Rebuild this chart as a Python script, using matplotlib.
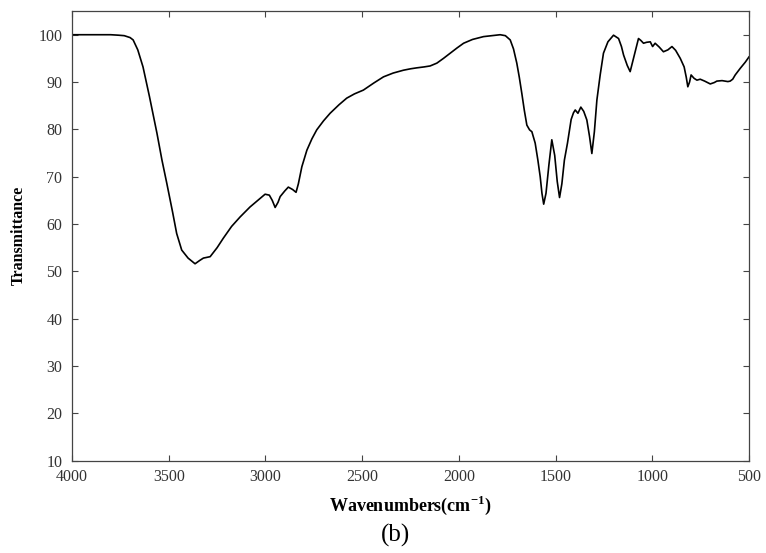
import matplotlib
matplotlib.use("Agg")
import matplotlib.pyplot as plt

# FTIR spectrum, wavenumber (cm-1) vs transmittance (%)
wavenumber = [4000, 3900, 3800, 3760, 3730, 3700, 3684, 3660, 3633, 3600, 3561,
              3535, 3510, 3480, 3459, 3433, 3400, 3364, 3340, 3321, 3286, 3250,
              3218, 3175, 3131, 3080, 3040, 3002, 2980, 2965, 2950, 2935, 2924,
              2900, 2882, 2860, 2842, 2830, 2812, 2786, 2760, 2735, 2700, 2666,
              2620, 2580, 2540, 2494, 2440, 2390, 2340, 2287, 2250, 2218, 2180,
              2149, 2114, 2080, 2045, 2010, 1976, 1930, 1873, 1830, 1787, 1760,
              1735, 1718, 1701, 1688, 1675, 1662, 1649, 1635, 1623, 1606, 1592,
              1580, 1571, 1562, 1550, 1535, 1520, 1505, 1492, 1480, 1468, 1455,
              1439, 1420, 1408, 1399, 1385, 1370, 1355, 1339, 1325, 1313, 1300,
              1287, 1270, 1253, 1230, 1201, 1175, 1160, 1149, 1130, 1115, 1095,
              1072, 1060, 1046, 1030, 1011, 999, 986, 965, 943, 920, 899, 880,
              856, 836, 825, 817, 808, 800, 785, 770, 753, 730, 701, 680, 667,
              640, 610, 598, 585, 572, 546, 520, 501]
transmittance = [100.0, 100.0, 100.0, 99.9, 99.8, 99.4, 98.9, 96.8, 93.2, 87.0, 79.2,
                 73.5, 68.6, 62.5, 58.0, 54.5, 52.8, 51.6, 52.3, 52.8, 53.1, 55.0,
                 57.0, 59.5, 61.5, 63.6, 65.0, 66.3, 66.1, 65.0, 63.5, 64.6, 65.8,
                 67.0, 67.8, 67.3, 66.7, 68.5, 72.1, 75.6, 78.0, 79.9, 81.8, 83.4,
                 85.2, 86.6, 87.5, 88.3, 89.8, 91.1, 91.9, 92.5, 92.8, 93.0, 93.2,
                 93.4, 94.0, 95.0, 96.1, 97.2, 98.2, 99.0, 99.6, 99.8, 100.0, 99.8,
                 98.9, 97.0, 94.0, 91.0, 87.6, 84.0, 80.9, 79.9, 79.5, 77.1, 73.5,
                 70.0, 66.5, 64.2, 66.5, 72.5, 77.8, 74.5, 69.0, 65.6, 68.5, 73.5,
                 77.1, 82.1, 83.5, 84.1, 83.4, 84.7, 83.8, 82.0, 78.5, 74.9, 79.5,
                 86.2, 91.5, 96.1, 98.5, 99.9, 99.2, 97.5, 95.7, 93.5, 92.2, 95.5,
                 99.2, 98.8, 98.2, 98.4, 98.5, 97.5, 98.2, 97.4, 96.4, 96.8, 97.5,
                 96.7, 95.0, 93.2, 91.0, 89.0, 90.0, 91.5, 90.8, 90.4, 90.6, 90.2,
                 89.6, 89.9, 90.2, 90.3, 90.1, 90.2, 90.6, 91.5, 92.9, 94.2, 95.3]

xticks = [4000, 3500, 3000, 2500, 2000, 1500, 1000, 500]
yticks = [10, 20, 30, 40, 50, 60, 70, 80, 90, 100]

plt.rcParams['font.family'] = ['Liberation Serif', 'DejaVu Serif']
plt.rcParams['mathtext.fontset'] = 'custom'
plt.rcParams['mathtext.rm'] = 'Liberation Serif'
plt.rcParams['mathtext.bf'] = 'Liberation Serif:bold'

fig = plt.figure(figsize=(7.66, 5.53), dpi=100)
ax = fig.add_axes([0.094, 0.167, 0.884, 0.813])

ax.plot(wavenumber, transmittance, color='black', linewidth=1.2)

ax.set_xlim(4000, 500)
ax.set_ylim(10, 105)
ax.set_xticks(xticks)
ax.set_yticks(yticks)
ax.tick_params(direction='in', length=4, width=0.8, top=True, right=True,
               labelsize=11.5, labelcolor='#333333', color='#444444')
ax.tick_params(axis='x', pad=6)
ax.tick_params(axis='y', pad=7)
ax.tick_params(top=True, right=True, labeltop=False, labelright=False)
for s in ax.spines.values():
    s.set_color('#444444')
    s.set_linewidth(0.9)

ax.set_ylabel('Transmittance', fontsize=11.5, fontweight='bold', labelpad=8)
ax.set_xlabel(r'Wavenumbers(cm$^{\mathbf{-1}}$)', fontsize=13, fontweight='bold',
              labelpad=6)
fig.text(0.516, 0.032, '(b)', fontsize=18, ha='center', va='center')

fig.savefig('out.png', dpi=100)
